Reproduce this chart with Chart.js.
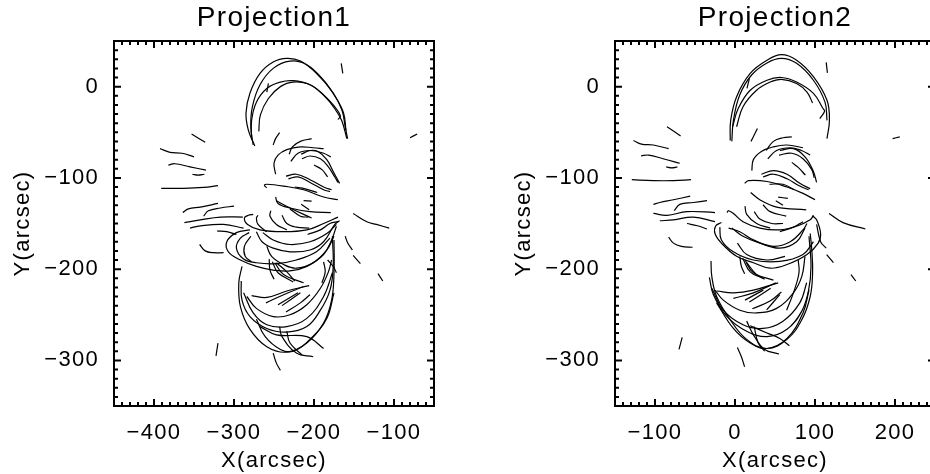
<!DOCTYPE html>
<html>
<head>
<meta charset="utf-8">
<script src="https://cdn.jsdelivr.net/npm/chart.js@4"></script>
<style>
html,body{margin:0;padding:0;background:#fff;overflow:hidden;width:930px;height:474px}
.c{position:absolute;top:0;width:465px;height:474px}
</style>
</head>
<body>
<div class="c" style="left:0"><canvas id="a" width="465" height="474"></canvas></div>
<div class="c" style="left:501px"><canvas id="b" width="465" height="474"></canvas></div>
<script>
const titles = ["Projection1", "Projection2"];
const xAxisLabel = "X(arcsec)";
const yAxisLabel = "Y(arcsec)";
const xRange1 = [-450, -50];
const xRange2 = [-150, 250];
const yRange = [-350, 50];
const xTicks1 = [-400, -300, -200, -100];
const xTicks2 = [-100, 0, 100, 200];
const yTicks = [0, -100, -200, -300];

// each loop: [x values], [y values]
const projection1Loops = [
[[-274,-282,-285,-280,-267.5,-251,-234,-217,-197,-176,-165,-161,-158],[-65,-48,-29,-7,14.5,27,31,28,14.5,-7,-26,-44,-57]],
[[-276,-279,-277,-267.5,-251,-230,-209,-188,-172,-163,-160],[-64,-44,-22,2,20,28,24,7,-13,-29,-48]],
[[-278,-278,-272,-259,-242,-226,-205,-188,-176,-167,-170],[-58,-37,-17,-2,5,6.5,2,-9,-20,-32,-36]],
[[-269,-267,-257,-242,-226,-205,-184,-172,-165,-159],[-49,-31,-13,0,5,2,-13,-27,-38,-57]],
[[-259,-257],[-6,3.5]],
[[-166,-164],[25.5,14.5]],
[[-80,-71],[-56,-52]],
[[-251,-248,-243],[-64,-57,-50.5]],
[[-353,-336],[-52,-61]],
[[-392.5,-380,-365,-350],[-68,-72,-73,-77]],
[[-382,-374,-355,-335],[-86,-84.5,-88,-91.5]],
[[-352,-345,-337],[-96,-97,-96]],
[[-391,-363,-338,-320],[-111.5,-111.5,-110.5,-108.5]],
[[-248,-250,-245,-234,-217,-201,-188],[-96,-84,-75,-69,-66,-67,-68]],
[[-231,-227,-217,-203],[-74,-66,-60,-57]],
[[-229,-220,-205,-188,-179],[-82,-73,-70,-73,-77]],
[[-216,-205,-195,-184,-176,-168],[-74,-70,-71,-80,-93,-106]],
[[-215,-205,-192,-182,-174,-170],[-79,-76,-79,-88,-99,-105]],
[[-200,-190,-183],[-86,-91,-99]],
[[-235,-222,-205,-188,-178],[-98,-96,-102,-110,-113]],
[[-232,-220,-205,-188,-180],[-101,-99,-105,-113,-115]],
[[-259,-262,-259,-238,-213,-188,-170],[-111,-108,-107,-109,-113,-121,-124]],
[[-224,-211,-196],[-110,-112,-116]],
[[-213,-203],[-125,-125.5]],
[[-248,-245,-230,-205,-179],[-121,-128,-133,-137,-138]],
[[-216,-206],[-129,-135]],
[[-364,-357,-342,-320],[-138,-134,-132,-128]],
[[-338,-332,-317,-300],[-142,-136,-133,-131]],
[[-362,-342,-317,-289],[-149,-146,-143,-143]],
[[-355,-342,-313,-288],[-155,-152.5,-151,-155]],
[[-321,-309,-297],[-158,-159,-162]],
[[-343,-336,-326,-313],[-173,-180,-182,-182]],
[[-276,-282,-287,-283,-267.5,-238,-209,-188,-170],[-140,-141,-144,-151,-157,-159,-157,-150,-143]],
[[-270,-272,-270,-259],[-141,-144,-151,-159]],
[[-254,-255,-247,-234],[-136,-142,-151,-157]],
[[-240,-234,-222,-206],[-141,-150,-154,-155]],
[[-247,-230,-203],[-125,-133,-144]],
[[-230,-217,-207],[-134,-142,-143]],
[[-208,-192,-180,-170],[-162,-157,-150,-148]],
[[-272,-265,-251,-230,-205,-188,-174,-168],[-159,-170,-177,-181,-179,-170,-151,-147]],
[[-264,-251,-230,-205,-184,-172],[-160,-168,-173,-170,-161,-151]],
[[-280,-297,-309,-307,-292,-272,-251,-230,-209,-188,-178,-172],[-157,-160,-170,-181,-190,-197,-201,-202,-197,-184,-168,-153]],
[[-281,-292,-297,-288,-272,-247,-222,-197,-180],[-160,-166,-177,-189,-193,-194,-190,-181,-166]],
[[-279,-287,-286,-278],[-164,-175,-186,-192]],
[[-259,-253,-238,-222,-201,-184,-175],[-175,-186,-195,-199,-193,-179,-164]],
[[-256,-255,-250],[-189,-201,-211]],
[[-252,-245,-226],[-192,-204,-214]],
[[-249,-238,-213],[-193,-206,-215]],
[[-247,-234,-224],[-193,-203,-213]],
[[-290,-294,-292,-280,-259,-234,-209,-188,-178,-175,-175],[-197,-215,-241,-266,-285,-291,-281,-259,-234,-204,-168]],
[[-291,-290,-280,-259,-234,-209,-192,-180,-176,-177],[-213,-234,-252,-265,-269,-263,-245,-223,-197,-164]],
[[-284,-272,-251,-230,-209,-192,-182,-178],[-230,-243,-252,-250,-239,-221,-203,-190]],
[[-288,-276,-259,-234,-209,-188,-177],[-226,-248,-261,-263,-254,-230,-204]],
[[-272,-261,-242,-226,-205,-184,-175],[-255,-274,-288,-290,-277,-254,-226]],
[[-243,-240,-222,-201],[-263,-274,-292,-296]],
[[-234,-230,-215],[-268,-281,-294]],
[[-267.5,-247,-209,-188],[-263,-272,-274,-287]],
[[-251,-247,-242],[-292,-303,-311]],
[[-278,-259,-234,-206],[-229,-231,-224,-218]],
[[-260,-238,-213],[-237,-228,-219]],
[[-245,-220],[-239,-226]],
[[-240,-217],[-240,-226]],
[[-235,-217,-205],[-247,-237,-228]],
[[-188,-186,-190],[-192,-203,-215]],
[[-183,-176,-172],[-190,-197,-204]],
[[-151,-134,-122,-106],[-139,-148,-151,-155]],
[[-161,-158,-152],[-164,-171,-179]],
[[-151,-142],[-185,-194]],
[[-120,-114],[-205,-213]],
[[-320,-322.5],[-281,-295]]
];

const projection2Loops = [
[[-6,-5.4,2,19,40,58,77,98,115,118,115],[-59,-37,-11,14.5,29,35,29,11,-15,-37,-57]],
[[-4,-2,6,21,40,58,77,98,112.5,115],[-60,-37,-9,13,26,31,25.5,7,-17,-37]],
[[-3,4,19,40,58,77,98,110,112,106],[-44,-24,-4,7,10,5,-7.4,-24,-27,-35]],
[[2,10,27,44,58,77,90,97],[-44,-22,-4,5,8,3.5,-6,-18]],
[[15,18],[-2,9]],
[[114,115.5],[26.6,15]],
[[197,206],[-57,-55]],
[[20,24,28],[-60,-53,-46]],
[[-85,-68],[-44,-54]],
[[-127,-117,-102,-83],[-59,-63,-64,-68]],
[[-117.5,-108,-90,-69],[-76,-75,-79,-84]],
[[-86,-79,-72],[-88,-89,-88]],
[[-129,-102,-77,-55],[-102,-103,-103,-102]],
[[21,23,33,48,65,85],[-92,-80,-71,-66,-64,-67]],
[[39,48,60,71],[-70,-60,-56,-55]],
[[41,52,69,83,94],[-79,-70,-67,-70,-75]],
[[56,73,87.5,98,102],[-70,-68,-77,-93,-105]],
[[55,71,85,96,99],[-75,-73,-79,-91,-100]],
[[71,79,88],[-83,-88.5,-97]],
[[33,48,65,81,94],[-96,-92,-96,-106,-112]],
[[35,48,65,81,92],[-99,-96,-101,-109,-113]],
[[12,17,40,65,85,100],[-106,-103,-104,-110,-117,-124]],
[[43,60,74],[-107,-107,-113]],
[[54,66],[-121,-122.5]],
[[19.6,31,52,89],[-116,-124,-132,-135]],
[[51,60],[-125,-130]],
[[-102,-94,-77,-56],[-129,-127,-124,-120]],
[[-76,-69,-52,-35],[-136,-129,-127,-125]],
[[-102,-85,-60,-25],[-139,-141,-137,-138]],
[[-94,-77,-52,-25],[-147,-146,-143,-148]],
[[-60,-47,-35],[-150,-152.5,-156]],
[[-83,-77,-67,-53],[-165,-171.5,-175,-176]],
[[-10,-8,-2,10,31,56,77,94,98],[-138,-136,-139,-148,-155,-157,-153,-146,-141]],
[[12.5,14.6,27,44],[-131,-140,-150,-155]],
[[24,31,46,60],[-137,-145,-150,-150]],
[[35,44,64],[-129.5,-137,-142]],
[[56,73,85],[-159,-154,-148]],
[[-8,6,23,48,69,85,90],[-155,-159,-168,-175,-170,-157,-150]],
[[-4,10,31,56,77,87.5],[-155,-164,-171.5,-177,-170,-155]],
[[-17,-24,-25,-17,2,23,44,65,90,104,107,102,97],[-149,-152.5,-161,-171.5,-186,-193,-199,-195,-184,-171.5,-161,-146,-141.5]],
[[-19,-17,-2,23,56,85,98],[-154,-168,-181,-190,-191.6,-184,-170]],
[[3,14.6,40,62.5],[-171.5,-184,-190,-186]],
[[102,107,114],[-151,-170,-177]],
[[6,8,12],[-186,-197,-205]],
[[9.6,19,35],[-188,-203,-210]],
[[12.5,23,48],[-190,-204,-212]],
[[14.6,27,37],[-193,-206,-211]],
[[-30,-29,-23,-6,14.6,40,65,83.5,94,97,96,94],[-191,-208,-230,-255.5,-277,-287,-277,-255.5,-230,-204,-179,-161]],
[[-32,-27,-10,14.6,40,65,83.5,92,95,92.5],[-209,-228,-252,-268,-274,-266,-246,-223,-197,-164]],
[[-25,-14.6,6,27,52,73,83.5,87.5],[-223,-234,-245,-248,-243,-226,-208,-186]],
[[-29,-14.6,10,35,60,81,89.6],[-221,-245,-261,-265,-257,-237,-215]],
[[-23,-2,19,40,65,85,92.5],[-237,-265,-281,-287,-276,-248,-223]],
[[14.6,23,37,55],[-257,-272,-288,-293]],
[[24,29,37],[-263,-281,-290]],
[[19,40,56,68],[-262,-270,-276,-284]],
[[3,8,12],[-286,-296,-307]],
[[-23,-2,23,54],[-224,-226,-223,-215]],
[[-2,23,51],[-232,-226,-215]],
[[12.5,35.4],[-234,-223]],
[[18,44.6],[-236,-221]],
[[21.7,43.8,58],[-243.5,-235,-225]],
[[39.6,56],[-244.6,-228]],
[[79,80,73,64.6],[-190,-204,-226,-245]],
[[114.6,123],[-184,-193]],
[[117.5,135,163],[-139,-149,-156]],
[[145,151],[-206,-213]],
[[-66,-70],[-274.7,-288]]
];

const FONT = "'Liberation Sans'";

const frame = {
  id: 'frame',
  beforeDraw(chart) { chart.ctx.letterSpacing = '1.3px'; },
  afterDraw(chart) {
    const {ctx, chartArea: a, scales: {x, y}} = chart;
    const major = 7, minor = 4;
    ctx.save();
    ctx.strokeStyle = '#000';
    ctx.lineWidth = 2;
    ctx.strokeRect(a.left, a.top, a.right - a.left, a.bottom - a.top);
    ctx.beginPath();
    for (let v = x.min; v <= x.max; v += 10) {
      const p = x.getPixelForValue(v), l = v % 100 === 0 ? major : minor;
      ctx.moveTo(p, a.bottom); ctx.lineTo(p, a.bottom - l);
      ctx.moveTo(p, a.top); ctx.lineTo(p, a.top + l);
    }
    for (let v = y.min; v <= y.max; v += 10) {
      const p = y.getPixelForValue(v), l = v % 100 === 0 ? major : minor;
      ctx.moveTo(a.left, p); ctx.lineTo(a.left + l, p);
      ctx.moveTo(a.right, p); ctx.lineTo(a.right - l, p);
    }
    ctx.stroke();
    ctx.restore();
  }
};

function makeChart(id, title, loops, xRange, xTicks) {
  return new Chart(document.getElementById(id), {
    type: 'scatter',
    data: {
      datasets: loops.map(([xs, ys]) => ({
        data: xs.map((v, i) => ({x: v, y: ys[i]})),
        showLine: true,
        tension: 0.4,
        pointRadius: 0,
        borderColor: '#000',
        borderWidth: 1.2
      }))
    },
    options: {
      responsive: false,
      animation: false,
      devicePixelRatio: 1,
      layout: {padding: {top: 0, right: 31, bottom: 0, left: 0}},
      plugins: {
        legend: {display: false},
        tooltip: {enabled: false},
        title: {
          display: true, fullSize: false, text: title, color: '#000',
          font: {family: FONT, size: 28, weight: 'normal'},
          padding: {top: 1, bottom: 6.4}
        }
      },
      scales: {
        x: {
          type: 'linear', min: xRange[0], max: xRange[1],
          afterBuildTicks: s => { s.ticks = xTicks.map(v => ({value: v})); },
          afterFit: s => { s.height = 68; },
          grid: {display: false}, border: {display: false},
          ticks: {color: '#000', padding: 6, maxRotation: 0, autoSkip: false,
            font: {family: FONT, size: 22},
            callback: v => String(v).replace('-', '\u2212')},
          title: {display: true, text: xAxisLabel, color: '#000', padding: {top: 0, bottom: 0},
            font: {family: FONT, size: 22}}
        },
        y: {
          type: 'linear', min: yRange[0], max: yRange[1],
          afterBuildTicks: s => { s.ticks = yTicks.map(v => ({value: v})); },
          afterFit: s => { s.width = 114; },
          grid: {display: false}, border: {display: false},
          ticks: {color: '#000', padding: 7, autoSkip: false,
            font: {family: FONT, size: 22},
            callback: v => String(v).replace('-', '\u2212')},
          title: {display: true, text: yAxisLabel, color: '#000', padding: {top: 10, bottom: 0},
            font: {family: FONT, size: 22}}
        }
      }
    },
    plugins: [frame]
  });
}

makeChart('a', titles[0], projection1Loops, xRange1, xTicks1);
makeChart('b', titles[1], projection2Loops, xRange2, xTicks2);
</script>
</body>
</html>
